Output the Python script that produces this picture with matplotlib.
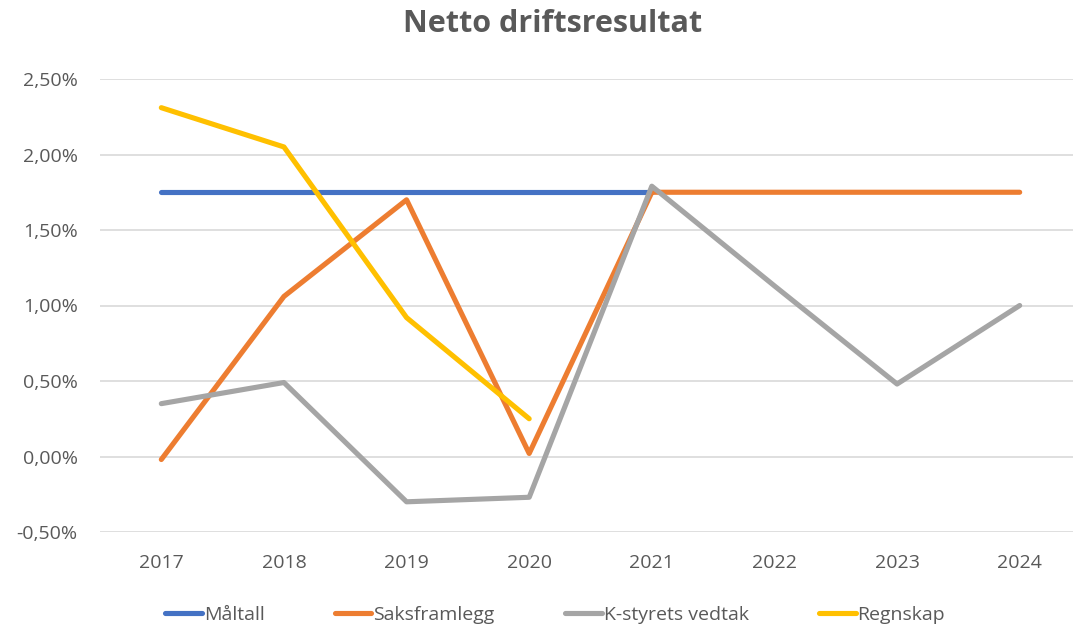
import numpy as np
import matplotlib.pyplot as plt
from matplotlib.ticker import FuncFormatter

years = ['2017', '2018', '2019', '2020', '2021', '2022', '2023', '2024']
maltall = [1.75, 1.75, 1.75, 1.75, 1.75, np.nan, np.nan, np.nan]
saksframlegg = [-0.02, 1.06, 1.70, 0.02, 1.75, 1.75, 1.75, 1.75]
kstyret = [0.35, 0.49, -0.30, -0.27, 1.79, 1.13, 0.48, 1.00]
regnskap = [2.31, 2.05, 0.92, 0.25, np.nan, np.nan, np.nan, np.nan]

plt.rcParams['font.family'] = ['Open Sans', 'DejaVu Sans']
txt = '#595959'

fig = plt.figure(figsize=(10.73, 6.28), dpi=100)
ax = fig.add_axes([100/1073, 1 - 532/628, 981/1073, 453/628])
x = np.arange(len(years))
lw = 3.7
ax.plot(x, maltall, color='#4472C4', lw=lw, solid_capstyle='round', label='Måltall')
ax.plot(x, saksframlegg, color='#ED7D31', lw=lw, solid_capstyle='round', label='Saksframlegg')
ax.plot(x, kstyret, color='#A5A5A5', lw=lw, solid_capstyle='round', label='K-styrets vedtak')
ax.plot(x, regnskap, color='#FFC000', lw=lw, solid_capstyle='round', label='Regnskap')

ax.set_xlim(-0.5, 7.5)
ax.set_ylim(-0.5, 2.5)
ax.set_yticks(np.arange(-0.5, 2.51, 0.5))
ax.yaxis.set_major_formatter(FuncFormatter(lambda v, p: f'{v:.2f}%'.replace('.', ',')))
ax.set_xticks(x)
ax.set_xticklabels(years)
ax.grid(axis='y', color='#d9d9d9', lw=1.2)
ax.set_axisbelow(True)
for s in ax.spines.values():
    s.set_visible(False)
ax.tick_params(length=0, labelsize=14, colors=txt)
ax.tick_params(axis='x', pad=16)
ax.tick_params(axis='y', pad=16)

fig.suptitle('Netto driftsresultat', x=553/1073, y=1 - 24/628, va='center',
             fontsize=22, fontweight='bold', color=txt)
fig.legend(loc='center', bbox_to_anchor=(555/1073, 1 - 615/628), ncol=4,
           frameon=False, fontsize=14, labelcolor=txt, handlelength=1.9,
           handletextpad=0.1, columnspacing=3.6)

fig.savefig('out.png', dpi=100)
